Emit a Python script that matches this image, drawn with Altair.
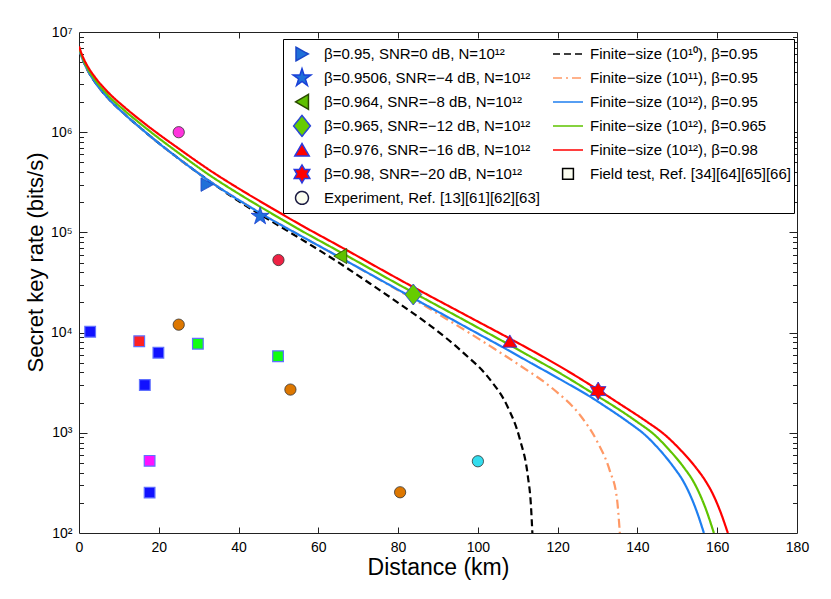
import altair as alt
import pandas as pd

FONT = "Liberation Sans"

# ---------------- legend labels ----------------
lab_b1 = "β=0.95, SNR=0 dB, N=10¹²"
lab_b2 = "β=0.9506, SNR=−4 dB, N=10¹²"
lab_b3 = "β=0.964, SNR=−8 dB, N=10¹²"
lab_b4 = "β=0.965, SNR=−12 dB, N=10¹²"
lab_b5 = "β=0.976, SNR=−16 dB, N=10¹²"
lab_b6 = "β=0.98, SNR=−20 dB, N=10¹²"
lab_exp = "Experiment, Ref. [13][61][62][63]"
lab_f10 = "Finite−size (10¹⁰), β=0.95"
lab_f11 = "Finite−size (10¹¹), β=0.95"
lab_f12a = "Finite−size (10¹²), β=0.95"
lab_f12b = "Finite−size (10¹²), β=0.965"
lab_f12c = "Finite−size (10¹²), β=0.98"
lab_field = "Field test, Ref. [34][64][65][66]"

# ---------------- beta markers ----------------
marker_labels = [lab_b1, lab_b2, lab_b3, lab_b4, lab_b5, lab_b6]
marker_x = [32.1, 45.4, 65.5, 83.8, 108.0, 130.15]
marker_y = [3.0e5, 1.45e5, 5.8e4, 2.4e4, 8.2e3, 2.61e3]

# ---------------- experiments (circles) ----------------
exp_x = [25.0, 50.0, 25.0, 53.0, 80.5, 100.0]
exp_y = [1.0e6, 5.3e4, 1.2e4, 2.7e3, 255, 520]
exp_fill = ["#ff33dd", "#ee2244", "#dd7700", "#dd7700", "#dd7700", "#33ddee"]

# ---------------- field tests (squares) ----------------
field_x = [2.8, 15.1, 19.9, 16.5, 29.8, 49.9, 17.7, 17.7]
field_y = [1.02e4, 8.2e3, 6.3e3, 3.0e3, 7.75e3, 5.8e3, 525, 253]
field_fill = ["#1111ff", "#ff2222", "#1111ff", "#1111ff", "#11ff11", "#11ff11", "#ff11ff", "#1111ff"]

# ---------------- curves ----------------
red_x = [0, 0.75, 1.5, 2.26, 4.01, 7.27, 11.53, 15.79, 20.3, 24.81, 27.82, 32.33, 40.85, 47.87,
         55.39, 65.66, 81.2, 98.0, 108.02, 113.03, 120.55, 130.08, 135.59, 142.36, 146.87, 150.63,
         154.89, 156.89, 158.9, 160.65, 162.66]
red_y = [7.18e6, 5.94e6, 5.09e6, 4.48e6, 3.54e6, 2.51e6, 1.76e6, 1.28e6, 9.35e5, 6.95e5, 5.71e5,
         4.29e5, 2.62e5, 1.79e5, 1.20e5, 7.16e4, 3.24e4, 1.42e4, 8.71e3, 6.79e3, 4.60e3, 2.69e3,
         1.94e3, 1.29e3, 955, 685, 437, 339, 245, 169, 100]

green_x = [0, 0.75, 1.5, 2.26, 4.01, 7.27, 11.53, 15.79, 20.3, 24.81, 27.82, 32.33, 40.85, 47.87,
           55.39, 65.66, 81.2, 98.0, 108.02, 113.03, 120.55, 130.08, 133.19, 139.86, 144.27, 147.83,
           151.89, 153.79, 155.6, 157.25, 159.16]
green_y = [6.98e6, 5.73e6, 4.86e6, 4.26e6, 3.34e6, 2.34e6, 1.63e6, 1.18e6, 8.53e5, 6.27e5, 5.12e5,
           3.82e5, 2.32e5, 1.58e5, 1.06e5, 6.31e4, 2.86e4, 1.24e4, 7.50e3, 5.81e3, 3.94e3, 2.31e3,
           1.94e3, 1.29e3, 955, 685, 437, 339, 245, 169, 100]

blue_x = [0, 0.75, 1.5, 2.26, 4.01, 7.27, 11.53, 15.79, 20.3, 24.81, 27.82, 32.33, 40.85, 47.87,
          55.39, 65.66, 81.2, 98.0, 108.02, 113.03, 120.55, 130.08, 130.99, 137.56, 141.87, 145.43,
          149.39, 151.29, 153.1, 154.75, 156.66]
blue_y = [6.78e6, 5.55e6, 4.70e6, 4.08e6, 3.16e6, 2.19e6, 1.50e6, 1.07e6, 7.60e5, 5.52e5, 4.49e5,
          3.33e5, 2.01e5, 1.37e5, 9.33e4, 5.56e4, 2.52e4, 1.08e4, 6.53e3, 5.04e3, 3.43e3, 2.05e3,
          1.94e3, 1.29e3, 955, 685, 437, 339, 245, 169, 100]

n10_x = [0, 0.75, 1.5, 2.26, 4.01, 7.27, 11.53, 15.79, 20.3, 24.81, 27.82, 32.33, 40.85, 47.87,
         55.39, 64.66, 72.93, 81.2, 87.97, 96.24, 103.01, 107.27, 110.53, 112.53, 113.28, 113.66]
n10_y = [6.78e6, 5.55e6, 4.70e6, 4.08e6, 3.16e6, 2.19e6, 1.50e6, 1.07e6, 7.60e5, 5.52e5, 4.49e5,
         3.33e5, 1.95e5, 1.32e5, 8.71e4, 5.13e4, 3.09e4, 1.84e4, 1.18e4, 6.35e3, 3.41e3, 1.88e3,
         861, 368, 194, 100]

n11_x = [0, 0.75, 1.5, 2.26, 4.01, 7.27, 11.53, 15.79, 20.3, 24.81, 27.82, 32.33, 40.85, 47.87,
         55.39, 65.66, 81.2, 87.0, 92.23, 98.0, 103.0, 110.53, 118.8, 125.56, 129.82, 133.08,
         134.84, 135.59]
n11_y = [6.78e6, 5.55e6, 4.70e6, 4.08e6, 3.16e6, 2.19e6, 1.50e6, 1.07e6, 7.60e5, 5.52e5, 4.49e5,
         3.33e5, 2.01e5, 1.37e5, 9.33e4, 5.56e4, 2.48e4, 1.82e4, 1.36e4, 9.84e3, 7.36e3, 4.70e3,
         2.75e3, 1.51e3, 832, 417, 224, 100]

# ---------------- axes ticks ----------------
x_ticks = [0, 20, 40, 60, 80, 100, 120, 140, 160, 180]
x_inner = [20, 40, 60, 80, 100, 120, 140, 160]
y_major = [1e2, 1e3, 1e4, 1e5, 1e6, 1e7]
y_inner = [1e3, 1e4, 1e5, 1e6]
y_minor = [200, 300, 400, 500, 600, 700, 800, 900,
           2000, 3000, 4000, 5000, 6000, 7000, 8000, 9000,
           2e4, 3e4, 4e4, 5e4, 6e4, 7e4, 8e4, 9e4,
           2e5, 3e5, 4e5, 5e5, 6e5, 7e5, 8e5, 9e5,
           2e6, 3e6, 4e6, 5e6, 6e6, 7e6, 8e6, 9e6]

# ---------------- marker shapes (unit box, scaled by sqrt(size)/2) ----------------
P_LINE = "M-1,0L1,0"
P_TRI_R = "M-0.4,-0.45L0.42,0L-0.4,0.45Z"
P_STAR = ("M0,-0.62L0.139,-0.191L0.59,-0.191L0.225,0.073L0.364,0.502L0,0.237"
          "L-0.364,0.502L-0.225,0.073L-0.59,-0.191L-0.139,-0.191Z")
P_TRI_L = "M0.43,-0.5L-0.43,0L0.43,0.5Z"
P_DIAM = "M0,-0.7L0.56,0L0,0.7L-0.56,0Z"
P_TRI_U = "M0,-0.42L0.48,0.4L-0.48,0.4Z"
P_HEXA = ("M0,-0.6L0.173,-0.3L0.52,-0.3L0.346,0L0.52,0.3L0.173,0.3L0,0.6"
          "L-0.173,0.3L-0.52,0.3L-0.346,0L-0.52,-0.3L-0.173,-0.3Z")
P_SQ = "M-0.36,-0.36L0.36,-0.36L0.36,0.36L-0.36,0.36Z"
P_CIRC = "M0.43,0A0.43,0.43,0,1,1,-0.43,0A0.43,0.43,0,1,1,0.43,0Z"

# legend order: first column then second column
DOMAIN = [lab_b1, lab_b2, lab_b3, lab_b4, lab_b5, lab_b6, lab_exp,
          lab_f10, lab_f11, lab_f12a, lab_f12b, lab_f12c, lab_field]
SHAPES = [P_TRI_R, P_STAR, P_TRI_L, P_DIAM, P_TRI_U, P_HEXA, P_CIRC,
          P_LINE, P_LINE, P_LINE, P_LINE, P_LINE, P_SQ]
FILLS = ["#1f70d8", "#1f70d8", "#5fc000", "#66cc00", "#ff0000", "#ff0000", "#fbfdf0",
         "transparent", "transparent", "transparent", "transparent", "transparent", "#fbfdf0"]
STROKES = ["#1a46c8", "#1a40d8", "#2a4a00", "#2a45d8", "#2a3ae0", "#2a3ae0", "#1a1a40",
           "#000000", "#ff9966", "#1f7ff0", "#5fc400", "#ff0000", "#000000"]
DASHES = [[1, 0], [1, 0], [1, 0], [1, 0], [1, 0], [1, 0], [1, 0],
          [7, 4], [9, 4, 2, 4], [1, 0], [1, 0], [1, 0], [1, 0]]

XS = alt.Scale(domain=[0, 180], nice=False, zero=False)
YS = alt.Scale(type="log", domain=[100, 1e7], nice=False)


def enc(xaxis=None, yaxis=None):
    return dict(x=alt.X("x:Q", scale=XS, axis=xaxis),
                y=alt.Y("y:Q", scale=YS, axis=yaxis))


x_main = alt.Axis(orient="bottom", values=x_ticks, ticks=False, tickSize=0, domain=False,
                  grid=False, labelFontSize=14, labelPadding=7, labelColor="#000",
                  labelFont=FONT, labelOverlap=False, labelFlush=False,
                  title="Distance (km)", titleFontSize=23, titleFont=FONT,
                  titleFontWeight="normal", titleColor="#000", titleY=34,
                  titleBaseline="middle")
y_main = alt.Axis(orient="left", values=y_major, ticks=False, tickSize=0, domain=False,
                  grid=False, labelFontSize=14, labelPadding=7, labelColor="#000",
                  labelFont=FONT, labelOverlap=False, labelFlush=False,
                  labelExpr="'10' + ['⁰','¹','²','³','⁴','⁵','⁶','⁷'][round(log(datum.value)/LN10)]",
                  title="Secret key rate (bits/s)", titleFontSize=22, titleFont=FONT,
                  titleFontWeight="normal", titleColor="#000", titleX=-44, titleY=230,
                  titleBaseline="middle")


def tick_axis(orient, values, size):
    return alt.Axis(orient=orient, values=values, labels=False, domain=False, ticks=True,
                    tickSize=size, offset=-size, title=None, grid=False,
                    tickColor="#222", tickWidth=1)


def line_layer(xs, ys, color, dash, xaxis=None, yaxis=None):
    df = pd.DataFrame({"x": xs, "y": ys})
    return alt.Chart(df).mark_line(color=color, strokeWidth=2.2, strokeDash=dash,
                                   interpolate="monotone", clip=True).encode(**enc(xaxis, yaxis))


l_n10 = line_layer(n10_x, n10_y, "#000000", [7, 4], x_main, y_main)
l_n11 = line_layer(n11_x, n11_y, "#ff9966", [9, 4, 2, 4])
l_blue = line_layer(blue_x, blue_y, "#1f7ff0", [1, 0])
l_green = line_layer(green_x, green_y, "#5fc400", [1, 0])
l_red = line_layer(red_x, red_y, "#ff0000", [1, 0])

exp_df = pd.DataFrame({"x": exp_x, "y": exp_y, "c": exp_fill})
l_exp = alt.Chart(exp_df).mark_point(shape="circle", size=127, filled=True, opacity=1,
                                     stroke="#333333", strokeWidth=0.8).encode(
    fill=alt.Fill("c:N", scale=None), **enc())

field_df = pd.DataFrame({"x": field_x, "y": field_y, "c": field_fill})
l_field = alt.Chart(field_df).mark_point(shape="square", size=114, filled=True, opacity=1,
                                         stroke="#6070ff", strokeWidth=1.2).encode(
    fill=alt.Fill("c:N", scale=None), **enc())

LEG = alt.Legend(title=None, orient="none", legendX=204, legendY=7, columns=2,
                 columnPadding=12, rowPadding=0, clipHeight=23.8, symbolSize=900,
                 symbolStrokeWidth=1.5, labelFontSize=15, labelFont=FONT, labelColor="#000",
                 labelOffset=6, labelLimit=400, padding=3, strokeColor="#000",
                 fillColor="#ffffff")

mk_df = pd.DataFrame({"x": marker_x, "y": marker_y, "label": marker_labels})
l_mk = alt.Chart(mk_df).mark_point(filled=True, opacity=1, size=900, strokeWidth=1).encode(
    shape=alt.Shape("label:N", scale=alt.Scale(domain=DOMAIN, range=SHAPES), legend=LEG),
    fill=alt.Fill("label:N", scale=alt.Scale(domain=DOMAIN, range=FILLS), legend=LEG),
    stroke=alt.Stroke("label:N", scale=alt.Scale(domain=DOMAIN, range=STROKES), legend=LEG),
    strokeDash=alt.StrokeDash("label:N", scale=alt.Scale(domain=DOMAIN, range=DASHES), legend=LEG),
    **enc())

helper = alt.Chart(mk_df).mark_point(opacity=0)
h1 = helper.encode(**enc(tick_axis("bottom", x_inner, 6), tick_axis("left", y_inner, 8)))
h2 = helper.encode(**enc(tick_axis("top", x_inner, 6), tick_axis("right", y_inner, 8)))
h3 = helper.encode(**enc(None, tick_axis("left", y_minor, 4.5)))
h4 = helper.encode(**enc(None, tick_axis("right", y_minor, 4.5)))

chart = alt.layer(l_n10, l_n11, l_blue, l_green, l_red, l_exp, l_field, l_mk,
                  h1, h2, h3, h4).resolve_axis(
    x="independent", y="independent"
).properties(
    width=718, height=501,
    padding={"left": 71, "top": 24, "right": 26, "bottom": 58},
    autosize=alt.AutoSizeParams(type="none"),
    background="white",
).configure(font=FONT).configure_view(stroke="#222222", strokeWidth=1)

chart.save("out.html", embed_options={"renderer": "svg", "actions": False})
